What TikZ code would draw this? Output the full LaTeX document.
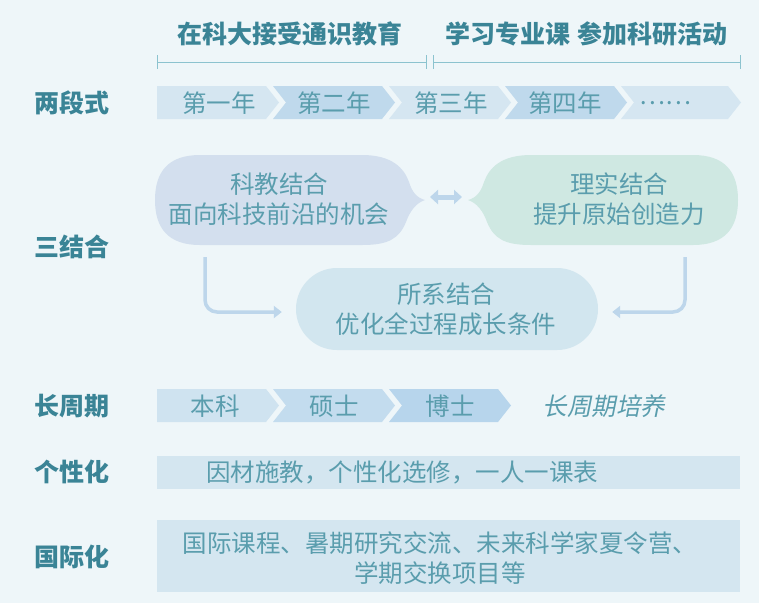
\documentclass[tikz,border=0pt]{standalone}
\usepackage{fontspec}
\setmainfont{Noto Sans CJK SC}
\newfontfamily\cjkit{Noto Sans CJK SC}[FakeSlant=0.2]
\usetikzlibrary{arrows.meta}
\definecolor{bgc}{HTML}{EEF6F9}
\definecolor{labc}{HTML}{3A8496}
\definecolor{txtc}{HTML}{5A9DAD}
\definecolor{brkc}{HTML}{8CC3CF}
\definecolor{chA}{HTML}{D5E6F1}
\definecolor{chB}{HTML}{BFD9EC}
\definecolor{chC}{HTML}{CFE3F0}
\definecolor{chD}{HTML}{C3DCEE}
\definecolor{chE}{HTML}{B7D5EC}
\definecolor{bubL}{HTML}{D3DFEE}
\definecolor{bubR}{HTML}{CFE8E2}
\definecolor{bubB}{HTML}{D2E6EF}
\definecolor{boxc}{HTML}{D4E6F0}
\definecolor{arrc}{HTML}{BDD6EB}
\begin{document}
\begin{tikzpicture}[x=1pt,y=-1pt,
  lab/.style={font=\fontsize{25}{28}\selectfont\bfseries, text=labc, inner sep=0pt},
  txt/.style={font=\fontsize{24.5}{30}\selectfont, text=txtc, align=center, inner sep=0pt},
  brk/.style={draw=brkc, line width=1pt},
  elb/.style={draw=arrc, line width=3.5pt, rounded corners=12pt, -{Triangle[length=8pt,width=12pt]}},
  dbl/.style={draw=arrc, line width=5pt, {Triangle[length=8pt,width=14pt]}-{Triangle[length=8pt,width=14pt]}},
  boxn/.style={fill=boxc, minimum width=583pt, inner sep=0pt}
]
\fill[bgc] (0,0) rectangle (759,603);
\useasboundingbox (0,0) rectangle (759,603);

% headers
\node[lab] (h1) at (290,34) {在科大接受通识教育};
\node[lab] (h2) at (586,34) {学习专业课\hspace{7pt}参加科研活动};
\draw[brk] (157,55) -- (157,69) (157,62) -- (426,62) (426,55) -- (426,69);
\draw[brk] (433,55) -- (433,69) (433,62) -- (740,62) (740,55) -- (740,69);

% left labels
\node[lab] (l1) at (72,103) {两段式};
\node[lab] (l2) at (72,247) {三结合};
\node[lab] (l3) at (72,406) {长周期};
\node[lab] (l4) at (72,472) {个性化};
\node[lab] (l5) at (72,557) {国际化};

% row 1 chevrons
\fill[chA] (157,86) -- (266,86) -- (279,102.5) -- (266,119) -- (157,119) -- cycle;
\fill[chB] (273,86) -- (382,86) -- (395,102.5) -- (382,119) -- (273,119) -- (286,102.5) -- cycle;
\fill[chA] (389,86) -- (498,86) -- (511,102.5) -- (498,119) -- (389,119) -- (402,102.5) -- cycle;
\fill[chB] (505,86) -- (614,86) -- (627,102.5) -- (614,119) -- (505,119) -- (518,102.5) -- cycle;
\fill[chA] (621,86) -- (728,86) -- (741,102.5) -- (728,119) -- (621,119) -- (634,102.5) -- cycle;
\node[txt] (y1) at (219,103) {第一年};
\node[txt] (y2) at (334,103) {第二年};
\node[txt] (y3) at (451,103) {第三年};
\node[txt] (y4) at (565,103) {第四年};
\node[txt] (y5) at (665,103) {……};

% row 2 bubbles
\fill[bubL] (200,155) -- (362,155) .. controls (392,155) and (404,168) .. (409,182)
  .. controls (412,192) and (417,198) .. (425,200)
  .. controls (416,203) and (410,211) .. (406,222)
  .. controls (399,239) and (388,245) .. (362,245) -- (200,245)
  .. controls (168,245) and (155,228) .. (155,200)
  .. controls (155,172) and (168,155) .. (200,155) -- cycle;
\fill[bubR] (693,155) -- (531,155) .. controls (501,155) and (489,168) .. (484,182)
  .. controls (481,192) and (476,198) .. (468,200)
  .. controls (477,203) and (483,211) .. (487,222)
  .. controls (494,239) and (505,245) .. (531,245) -- (693,245)
  .. controls (725,245) and (738,228) .. (738,200)
  .. controls (738,172) and (725,155) .. (693,155) -- cycle;
\node[txt] (kj) at (279,199) {科教结合\\面向科技前沿的机会};
\node[txt] (ls) at (619,199) {理实结合\\提升原始创造力};
\coordinate (lt) at (430,197);
\coordinate (rt) at (462,197);
\draw[dbl] (lt) -- (rt);

\node[fill=bubB, rounded corners=41pt, minimum width=302pt, minimum height=82pt, inner sep=0pt] (bot) at (447,309) {};
\node[txt] (sx) at (446,309) {所系结合\\优化全过程成长条件};
\coordinate (la) at (205,257);
\coordinate (ra) at (685,257);
\draw[elb] (la) |- ([xshift=-14pt,yshift=-3pt]bot.west);
\draw[elb] (ra) |- ([xshift=14pt,yshift=-3pt]bot.east);

% row 3 chevrons
\fill[chC] (157,389) -- (266,389) -- (279,405.5) -- (266,422) -- (157,422) -- cycle;
\fill[chD] (273,389) -- (382,389) -- (395,405.5) -- (382,422) -- (273,422) -- (286,405.5) -- cycle;
\fill[chE] (389,389) -- (498,389) -- (511,405.5) -- (498,422) -- (389,422) -- (402,405.5) -- cycle;
\node[txt] (bk) at (215,406) {本科};
\node[txt] (ss) at (334,406) {硕士};
\node[txt] (bs) at (450,406) {博士};
\node[txt, font=\fontsize{24.5}{30}\cjkit] (cz) at (604,406) {长周期培养};

% row 4
\node[boxn, minimum height=33pt] (b4) at (448.5,472.5) {};
\node[txt] (t4) at (402,472.5) {因材施教，个性化选修，一人一课表};

% row 5
\node[boxn, minimum height=72pt] (b5) at (448.5,556) {};
\node[txt] (t5) at (440,558) {国际课程、暑期研究交流、未来科学家夏令营、\\学期交换项目等};
\end{tikzpicture}
\end{document}
